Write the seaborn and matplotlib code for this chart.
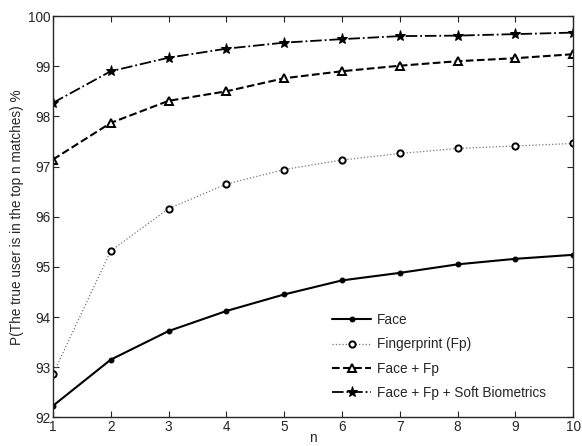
import numpy as np
import pandas as pd
import matplotlib
matplotlib.use("Agg")
import matplotlib.pyplot as plt
import seaborn as sns

n = [1, 2, 3, 4, 5, 6, 7, 8, 9, 10]
face = [92.23, 93.15, 93.72, 94.12, 94.45, 94.73, 94.88, 95.05, 95.16, 95.24]
fingerprint = [92.86, 95.32, 96.16, 96.65, 96.94, 97.13, 97.26, 97.36, 97.41, 97.46]
face_fp = [97.14, 97.87, 98.31, 98.50, 98.76, 98.90, 99.01, 99.10, 99.16, 99.24]
face_fp_soft = [98.27, 98.90, 99.17, 99.35, 99.47, 99.54, 99.60, 99.61, 99.64, 99.67]

labels = ["Face", "Fingerprint (Fp)", "Face + Fp", "Face + Fp + Soft Biometrics"]

sns.set_style("ticks")
plt.rcParams['font.family'] = ['Liberation Sans', 'DejaVu Sans']
plt.rcParams['xtick.direction'] = 'in'
plt.rcParams['ytick.direction'] = 'in'

fig = plt.figure(figsize=(5.82, 4.46), dpi=100, facecolor='white')
ax = fig.add_axes([0.091, 0.0643, 0.894, 0.8997])

# estilo de cada curva (estilo MATLAB)
styles = [
    dict(color='black', linestyle='-', marker='.', markersize=7, linewidth=1.5, mfc='black'),
    dict(color='#777777', linestyle=':', marker='o', markersize=4.5, linewidth=0.9, mfc='white', mew=1.4),
    dict(color='black', linestyle='--', marker='^', markersize=6, linewidth=1.5, mfc='white', mew=1.4),
    dict(color='black', linestyle='-.', marker='*', markersize=8, linewidth=1.3, mfc='black'),
]
series = [face, fingerprint, face_fp, face_fp_soft]

for vals, lab, st in zip(series, labels, styles):
    sns.lineplot(x=n, y=vals, ax=ax, label=lab, markeredgecolor='black', **st)

fs = 9.8
ax.set_xlim(1, 10)
ax.set_ylim(92, 100)
ax.set_xticks(n)
ax.set_yticks(range(92, 101))
ax.tick_params(axis='both', labelsize=fs, length=4, width=0.8,
               top=True, right=True, pad=2)
for sp in ax.spines.values():
    sp.set_linewidth(1.0)
    sp.set_visible(True)

ax.set_xlabel("n", fontsize=fs, labelpad=-2)
ax.set_ylabel("P(The true user is in the top n matches) %", fontsize=fs, labelpad=3)

ax.legend(loc='lower right', frameon=False, fontsize=fs, handlelength=2.9,
          bbox_to_anchor=(0.971, 0.013), labelspacing=0.75, handletextpad=0.4)

fig.savefig("out.png", dpi=100)
